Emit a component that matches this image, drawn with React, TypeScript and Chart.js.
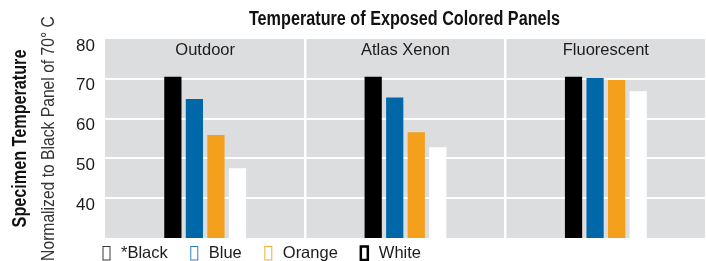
import { useEffect, useRef } from 'react';
import { Chart, registerables } from 'chart.js';

Chart.register(...registerables);

const chartTitle = 'Temperature of Exposed Colored Panels';
const yTitle = 'Specimen Temperature';
const ySubtitle = 'Normalized to Black Panel of 70° C';

const categories = ['Outdoor', 'Atlas Xenon', 'Fluorescent'];
const seriesLabels = ['*Black', 'Blue', 'Orange', 'White'];
const blackValues = [70.5, 70.5, 70.5];
const blueValues = [64.9, 65.3, 70.2];
const orangeValues = [55.9, 56.6, 69.7];
const whiteValues = [47.5, 52.8, 66.9];
const yTickLabels = [40, 50, 60, 70, 80];
const yMin = 30;
const yMax = 80;
const yStep = 5;

const seriesColors = ['#000000', '#0068a9', '#f5a01c', '#ffffff'];
const legendStroke = ['#3a3a3a', '#2f80c2', '#f6ab3e', '#000000'];
const legendStrokeWidth = [1, 1, 1, 2.5];

const SANS = "'Liberation Sans', Arial, sans-serif";
const TEXT = '#1c1c1c';
const PANEL_BG = '#dcdddf';

function drawScaled(ctx: any, text: string, x: number, y: number, font: string, sx: number, rot = 0) {
  ctx.save();
  ctx.translate(x, y);
  if (rot) ctx.rotate(rot);
  ctx.scale(sx, 1);
  ctx.font = font;
  ctx.textAlign = 'center';
  ctx.textBaseline = 'middle';
  ctx.fillText(text, 0, 0);
  ctx.restore();
}

const decorPlugin = {
  id: 'decor',
  beforeDraw(chart: any) {
    const { ctx, chartArea } = chart;
    ctx.save();
    ctx.fillStyle = PANEL_BG;
    ctx.fillRect(chartArea.left, chartArea.top, chartArea.right - chartArea.left, chartArea.bottom - chartArea.top);
    ctx.restore();
  },
  afterDraw(chart: any) {
    const { ctx, chartArea } = chart;
    const xScale = chart.scales.x;
    ctx.save();
    // title
    ctx.fillStyle = '#111';
    drawScaled(ctx, chartTitle, (chartArea.left + chartArea.right) / 2 - 1, 19.5, `bold 20px ${SANS}`, 0.81);
    // panel labels
    ctx.fillStyle = TEXT;
    categories.forEach((c, i) => {
      drawScaled(ctx, c, xScale.getPixelForValue(i), chartArea.top + 11, `16.5px ${SANS}`, 1);
    });
    // y titles
    const cy = (chartArea.top + chartArea.bottom) / 2;
    ctx.fillStyle = '#111';
    drawScaled(ctx, yTitle, 21, cy, `bold 19.5px ${SANS}`, 0.83, -Math.PI / 2);
    ctx.fillStyle = '#333';
    drawScaled(ctx, ySubtitle, 49, cy, `18px ${SANS}`, 0.87, -Math.PI / 2);
    // legend
    ctx.font = `16.5px ${SANS}`;
    ctx.textAlign = 'left';
    ctx.textBaseline = 'middle';
    let x = 102;
    const y = 253;
    chart.data.datasets.forEach((ds: any, i: number) => {
      ctx.strokeStyle = legendStroke[i];
      ctx.lineWidth = legendStrokeWidth[i];
      ctx.strokeRect(x + 1, y - 6.5, 7, 13.5);
      ctx.fillStyle = TEXT;
      const tx = x + 19;
      ctx.fillText(ds.label, tx, y);
      x = tx + ctx.measureText(ds.label).width + 22;
    });
    ctx.restore();
  },
};

export default function App() {
  const ref = useRef<HTMLCanvasElement | null>(null);
  useEffect(() => {
    if (!ref.current) return;
    const datasetsValues = [blackValues, blueValues, orangeValues, whiteValues];
    const chart = new Chart(ref.current, {
      type: 'bar',
      data: {
        labels: categories,
        datasets: seriesLabels.map((label, i) => ({
          label,
          data: datasetsValues[i],
          backgroundColor: seriesColors[i],
          borderWidth: 0,
          categoryPercentage: 0.43,
          barPercentage: 0.8,
        })),
      },
      options: {
        animation: false,
        responsive: false,
        layout: { padding: { left: 0, right: 0, top: 39, bottom: 23 } },
        plugins: {
          legend: { display: false },
          tooltip: { enabled: false },
          title: { display: false },
        },
        scales: {
          x: {
            type: 'category',
            grid: {
              offset: true,
              drawTicks: false,
              lineWidth: 2.5,
              color: (ctx: any) =>
                ctx.index === 0 || ctx.index >= categories.length ? 'rgba(0,0,0,0)' : '#ffffff',
            },
            border: { display: false },
            ticks: { display: false },
          },
          y: {
            min: yMin,
            max: yMax,
            ticks: {
              stepSize: yStep,
              color: TEXT,
              font: { family: SANS, size: 17 },
              padding: 10,
              labelOffset: 7,
              callback: (v: any) => (yTickLabels.includes(Number(v)) ? String(v) : ''),
            },
            grid: {
              drawTicks: false,
              lineWidth: 2,
              color: (ctx: any) =>
                ctx.tick && (ctx.tick.value === yMax || ctx.tick.value === yMin) ? 'rgba(0,0,0,0)' : '#ffffff',
            },
            border: { display: false },
            afterFit: (s: any) => {
              s.width = 105;
            },
          },
        },
      },
      plugins: [decorPlugin],
    } as any);
    return () => chart.destroy();
  }, []);
  return (
    <div style={{ position: 'absolute', left: 0, top: 0, width: 706, height: 261 }}>
      <canvas ref={ref} width={706} height={261} style={{ display: 'block' }} />
    </div>
  );
}
